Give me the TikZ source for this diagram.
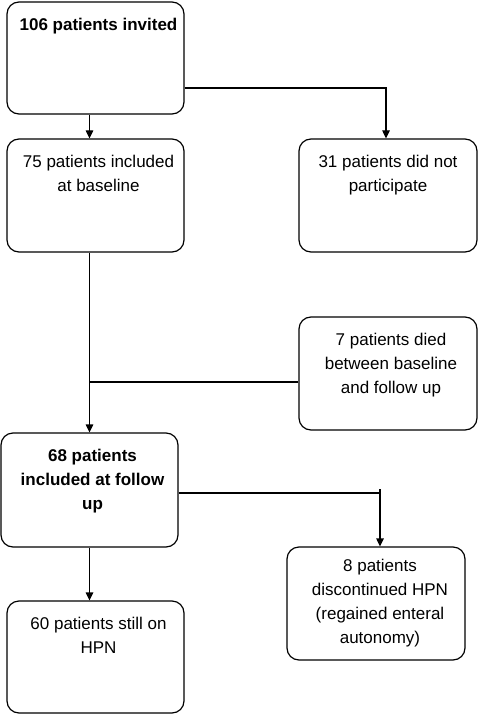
\documentclass[tikz,border=0pt]{standalone}
\usepackage{fontspec}
\setmainfont{Liberation Sans}
\usetikzlibrary{arrows.meta,calc}
\begin{document}
\begin{tikzpicture}[x=1pt,y=-1pt,
  box/.style={draw,line width=1.2pt,rounded corners=12pt,inner sep=0pt},
  txt/.style={anchor=north,inner sep=0pt,align=center,font={\fontsize{17}{24}\selectfont}},
  conn/.style={line width=1.2pt},
  arr/.style={line width=1.2pt,-{Triangle[length=8pt,width=7.5pt]}}]
\useasboundingbox (0,0) rectangle (478,714);
% boxes
\node[box,minimum width=177pt,minimum height=112pt] (a) at (95.5,58) {};
\node[box,minimum width=177pt,minimum height=113pt] (b) at (95.5,195.5) {};
\node[box,minimum width=178pt,minimum height=113pt] (c) at (388,195.5) {};
\node[box,minimum width=178pt,minimum height=113pt] (d) at (388,373.5) {};
\node[box,minimum width=177pt,minimum height=114pt] (e) at (89.5,490) {};
\node[box,minimum width=178pt,minimum height=113pt] (f) at (376,603.5) {};
\node[box,minimum width=177pt,minimum height=112pt] (g) at (95.5,657) {};
% texts
\node[txt] (ta) at ([xshift=3pt,yshift=-16.5pt]a.north) {\bfseries 106 patients invited};
\node[txt] (tb) at ([xshift=3pt,yshift=-16.5pt]b.north) {75 patients included\\at baseline};
\node[txt] (tc) at ([xshift=0pt,yshift=-16.5pt]c.north) {31 patients did not\\participate};
\node[txt] (td) at ([xshift=3pt,yshift=-16.5pt]d.north) {7 patients died\\between baseline\\and follow up};
\node[txt] (te) at ([xshift=3pt,yshift=-16.5pt]e.north) {\bfseries 68 patients\\\bfseries included at follow\\\bfseries up};
\node[txt] (tf) at ([xshift=4pt,yshift=-12.5pt]f.north) {8 patients\\discontinued HPN\\(regained enteral\\autonomy)};
\node[txt] (tg) at ([xshift=3pt,yshift=-16.5pt]g.north) {60 patients still on\\HPN};
% connectors
\draw[arr] (a.south -| e.center) -- (b.north -| e.center);
\coordinate (ae) at ([yshift=-30pt]a.east);
\draw[arr] (ae) -| ([xshift=-2pt]c.north);
\draw[arr] (b.south -| e.center) -- (e.north);
\coordinate (dw) at ([yshift=-8.5pt]d.west);
\draw[conn] (dw) -- (dw -| e.center);
\coordinate (ee) at ([yshift=-3pt]e.east);
\coordinate (fn) at ([xshift=4pt]f.north);
\draw[conn] (ee) -- (ee -| fn);
\draw[arr] ($(ee -| fn)+(0,-4)$) -- (fn);
\draw[arr] (e.south) -- (g.north -| e.south);
\end{tikzpicture}
\end{document}
